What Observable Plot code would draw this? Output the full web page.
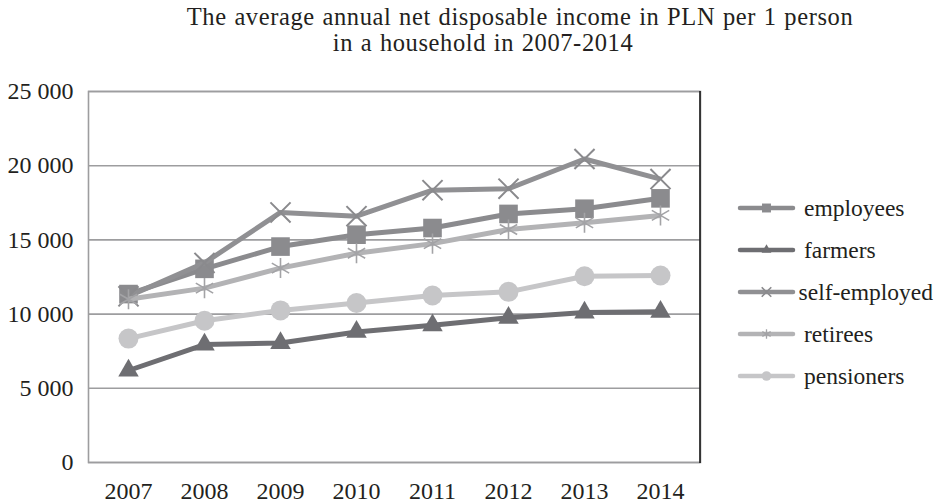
<!DOCTYPE html>
<html>
<head>
<meta charset="utf-8">
<script src="https://cdn.jsdelivr.net/npm/d3@7"></script>
<script src="https://cdn.jsdelivr.net/npm/@observablehq/plot@0.6"></script>
<style>
  body { margin: 0; background: #fff; font-family: "Liberation Serif", "Times New Roman", serif; color: #231f20; }
  #wrap { position: relative; width: 938px; height: 503px; overflow: hidden; }
  .title { position: absolute; width: 800px; text-align: center; font-size: 24.5px; line-height: 26px; letter-spacing: 0.6px; word-spacing: 1px; white-space: nowrap; }
  #title1 { left: 120px; top: 4px; }
  #title2 { left: 83px; top: 30px; }
  #chart { position: absolute; left: 0; top: 54px; }
  #legend { position: absolute; left: 737px; top: 0; width: 201px; height: 503px; }
  .row { position: absolute; left: 0; height: 24px; display: block; }
  .row svg { position: absolute; left: 0; top: 2px; }
  .row span { position: absolute; top: 0; font-size: 23.5px; line-height: 24px; white-space: nowrap; }
</style>
</head>
<body>
<div id="wrap">
  <div class="title" id="title1">The average annual net disposable income in PLN per 1 person</div>
  <div class="title" id="title2">in a household in 2007-2014</div>
  <div id="chart"></div>
  <div id="legend"></div>
</div>
<script>
// Average annual net disposable income per person (PLN), by household type
const years = [2007, 2008, 2009, 2010, 2011, 2012, 2013, 2014];
const employees    = [11350, 13050, 14550, 15350, 15800, 16750, 17100, 17800];
const farmers      = [6200, 7950, 8050, 8800, 9250, 9750, 10100, 10150];
const selfEmployed = [11200, 13450, 16850, 16600, 18350, 18450, 20450, 19100];
const retirees     = [11000, 11750, 13100, 14100, 14750, 15700, 16150, 16650];
const pensioners   = [8350, 9550, 10250, 10750, 11250, 11500, 12550, 12600];
const yTicks = [0, 5000, 10000, 15000, 20000, 25000];

const series = [
  {name: "employees",     values: employees,    color: "#8b8b8e", symbol: "square",   r: 10.5, filled: true},
  {name: "farmers",       values: farmers,      color: "#6e6e72", symbol: "triangle", r: 7.6,  filled: true},
  {name: "self-employed", values: selfEmployed, color: "#909093", symbol: "times",    r: 9.2,  filled: false, markStroke: "#8a8a8d", sw: 2},
  {name: "retirees",      values: retirees,     color: "#b3b3b5", symbol: "asterisk", r: 9.5,  filled: false, markStroke: "#a3a3a6", sw: 1.6},
  {name: "pensioners",    values: pensioners,   color: "#c6c6c8", symbol: "circle",   r: 10,   filled: true}
];

const rows = series.flatMap(s => years.map((year, i) => ({series: s.name, year, value: s.values[i]})));
const fmt = d => d3.format(",")(d).replace(/,/g, " ");

const seriesMarks = series.flatMap(s => {
  const d = rows.filter(r => r.series === s.name);
  return [
    Plot.line(d, {x: "year", y: "value", stroke: s.color, strokeWidth: 5, strokeLinejoin: "round", strokeLinecap: "butt"}),
    s.filled
      ? Plot.dot(d, {x: "year", y: "value", symbol: s.symbol, r: s.r, fill: s.color, stroke: "none"})
      : Plot.dot(d, {x: "year", y: "value", symbol: s.symbol, r: s.r, fill: "none", stroke: s.markStroke, strokeWidth: s.sw})
  ];
});

const chart = Plot.plot({
  width: 938,
  height: 449,
  marginLeft: 88,
  marginRight: 238,
  marginTop: 37,
  marginBottom: 41,
  style: {fontFamily: "'Liberation Serif', 'Times New Roman', serif", fontSize: "24px", color: "#231f20", background: "transparent", overflow: "visible"},
  x: {type: "point", domain: years, padding: 0.5, label: null, tickSize: 0, tickPadding: 19, tickFormat: d => String(d)},
  y: {domain: [0, 25000], ticks: yTicks, tickFormat: fmt, label: null, tickSize: 0, tickPadding: 15},
  marks: [
    Plot.ruleY(yTicks, {stroke: "#9d9d9f", strokeWidth: 1.6}),
    Plot.frame({stroke: "#9d9d9f", strokeWidth: 1.6}),
    ...seriesMarks
  ]
});
document.getElementById("chart").appendChild(chart);

// darker right edge of the plot box
{
  const xr = chart.scale("x").range;
  const yr = chart.scale("y").range;
  d3.select(chart).append("line")
    .attr("x1", xr[1]).attr("x2", xr[1])
    .attr("y1", Math.min(...yr)).attr("y2", Math.max(...yr) + 1)
    .attr("stroke", "#1a1a1a").attr("stroke-width", 1.6);
}

// legend: line swatch with marker, then label
{
  const legend = d3.select("#legend");
  const rowTop = 196, rowGap = 42;
  series.forEach((s, i) => {
    const row = legend.append("div").attr("class", "row").style("top", (rowTop + i * rowGap) + "px");
    const svg = row.append("svg").attr("width", 60).attr("height", 20);
    svg.append("line").attr("x1", 3).attr("x2", 56).attr("y1", 10).attr("y2", 10)
      .attr("stroke", s.color).attr("stroke-width", 4.5).attr("stroke-linecap", "round");
    const symType = {square: d3.symbolSquare, triangle: d3.symbolTriangle, times: d3.symbolTimes, asterisk: d3.symbolAsterisk, circle: d3.symbolCircle}[s.symbol];
    const size = Math.PI * Math.pow(s.r * 0.48, 2);
    const p = svg.append("path").attr("transform", "translate(29.5,10)").attr("d", d3.symbol(symType, size)());
    if (s.filled) p.attr("fill", s.color);
    else p.attr("fill", "none").attr("stroke", s.markStroke).attr("stroke-width", s.sw * 0.8);
    const label = row.append("span").text(s.name).style("left", "0px");
    const w = label.node().getBoundingClientRect().width;
    label.style("left", Math.min(67, 201 - 5 - w) + "px");
  });
}
</script>
</body>
</html>
